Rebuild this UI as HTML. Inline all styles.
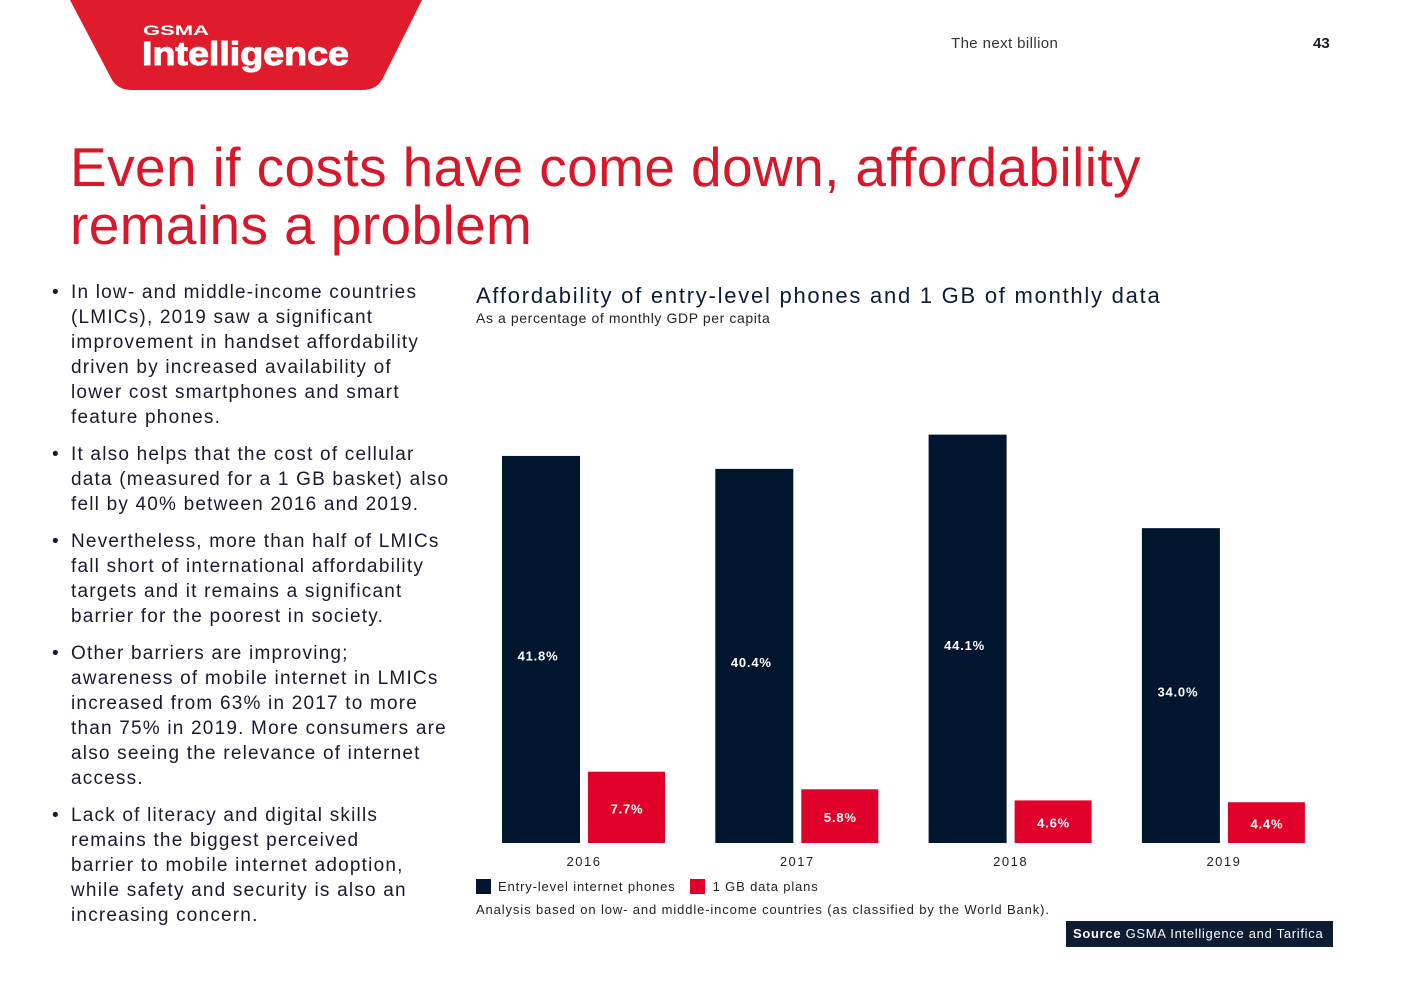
<!DOCTYPE html>
<html><head><meta charset="utf-8"><style>
body{margin:0;width:1403px;height:992px;background:#fff;font-family:"Liberation Sans",sans-serif;position:relative;overflow:hidden}
.abs{position:absolute}
h1{position:absolute;left:70px;top:138px;margin:0;font-weight:normal;color:#d7182a;font-size:55px;line-height:58px;letter-spacing:0.4px}
ul{position:absolute;left:52px;top:280px;width:420px;margin:0;padding:0;list-style:none;color:#1a1a2e;font-size:19px;line-height:25px;letter-spacing:1.2px;white-space:nowrap}
li{position:relative;padding-left:19px;margin-bottom:12px}
li:before{content:"•";position:absolute;left:0}
</style></head><body>
<svg class="abs" style="left:0;top:0" width="440" height="100">
<path d="M70 0 L422 0 L383 78 Q377 90 362 90 L132 90 Q117 90 111 78 Z" fill="#e01b2b"/>
<text x="143" y="35" fill="#fff" font-family="Liberation Sans" font-weight="bold" font-size="14" textLength="66" lengthAdjust="spacingAndGlyphs">GSMA</text>
<text x="142" y="65" fill="#fff" font-family="Liberation Sans" font-weight="bold" font-size="33" textLength="207" lengthAdjust="spacingAndGlyphs" stroke="#fff" stroke-width="1">Intelligence</text>
</svg>
<div class="abs" style="left:951px;top:35px;font-size:15px;color:#333;letter-spacing:0.4px">The next billion</div>
<div class="abs" style="left:1313px;top:35px;font-size:15px;font-weight:bold;color:#1a1a2e">43</div>
<h1>Even if costs have come down, affordability<br>remains a problem</h1>
<ul>
<li>In low- and middle-income countries<br>(LMICs), 2019 saw a significant<br>improvement in handset affordability<br>driven by increased availability of<br>lower cost smartphones and smart<br>feature phones.</li>
<li>It also helps that the cost of cellular<br>data (measured for a 1 GB basket) also<br>fell by 40% between 2016 and 2019.</li>
<li>Nevertheless, more than half of LMICs<br>fall short of international affordability<br>targets and it remains a significant<br>barrier for the poorest in society.</li>
<li>Other barriers are improving;<br>awareness of mobile internet in LMICs<br>increased from 63% in 2017 to more<br>than 75% in 2019. More consumers are<br>also seeing the relevance of internet<br>access.</li>
<li>Lack of literacy and digital skills<br>remains the biggest perceived<br>barrier to mobile internet adoption,<br>while safety and security is also an<br>increasing concern.</li>
</ul>
<div class="abs" style="left:476px;top:283px;font-size:22px;color:#0d1b33;letter-spacing:1.75px">Affordability of entry-level phones and 1 GB of monthly data</div>
<div class="abs" style="left:476px;top:310px;font-size:14px;color:#222;letter-spacing:0.6px">As a percentage of monthly GDP per capita</div>
<svg id="chart" class="abs" style="left:0;top:0" width="1403" height="992"></svg>
<div class="abs" style="left:476px;top:879px;font-size:13px;color:#222;display:flex;align-items:center;letter-spacing:0.85px">
<span style="width:15px;height:15px;background:#00152e;display:inline-block;margin-right:7px"></span><span style="margin-right:14px">Entry-level internet phones</span>
<span style="width:15px;height:15px;background:#e0002a;display:inline-block;margin-right:8px"></span><span>1 GB data plans</span></div>
<div class="abs" style="left:476px;top:902px;font-size:13px;color:#222;letter-spacing:0.88px">Analysis based on low- and middle-income countries (as classified by the World Bank).</div>
<div class="abs" style="left:1066px;top:921px;width:267px;height:26px;background:#0d1b33;color:#fff;font-size:13px;line-height:26px;box-sizing:border-box;padding-left:7px;letter-spacing:0.7px;white-space:nowrap"><b>Source</b> GSMA Intelligence and Tarifica</div>
<script>
const categories=["2016","2017","2018","2019"];
const phones=[41.8,40.4,44.1,34.0];
const dataPlans=[7.7,5.8,4.6,4.4];
const svg=document.getElementById('chart');
const NS="http://www.w3.org/2000/svg";
const base=843,scale=9.26,x0=502,step=213.3,bw=78;
function y(v){return base-v*scale;}
function add(tag,attrs,text){const e=document.createElementNS(NS,tag);for(const k in attrs)e.setAttribute(k,attrs[k]);if(text)e.textContent=text;svg.appendChild(e);return e;}
categories.forEach((c,i)=>{
  const xp=x0+i*step, xd=xp+86;
  const r1=add('rect',{x:xp,y:y(phones[i]),width:bw,height:base-y(phones[i]),fill:'#00152e'});
  
  
  const r2=add('rect',{x:xd,y:y(dataPlans[i]),width:bw-1,height:base-y(dataPlans[i]),fill:'#e0002a'});
  
  
  const t1=add('text',{x:xp+bw/2-3,y:(y(phones[i])+base)/2+11,fill:'#fff','font-size':13,'font-weight':'bold','text-anchor':'middle','font-family':'Liberation Sans','letter-spacing':'0.8'},phones[i].toFixed(1)+'%');
  
  
  const t2=add('text',{x:xd+bw/2,y:(y(dataPlans[i])+base)/2+6,fill:'#fff','font-size':13,'font-weight':'bold','text-anchor':'middle','font-family':'Liberation Sans','letter-spacing':'0.8'},dataPlans[i].toFixed(1)+'%');
  
  
  const t3=add('text',{x:xp+82,y:866,fill:'#222','font-size':13,'text-anchor':'middle','font-family':'Liberation Sans','letter-spacing':'1.5'},c);
  
  
});
</script>
</body></html>
